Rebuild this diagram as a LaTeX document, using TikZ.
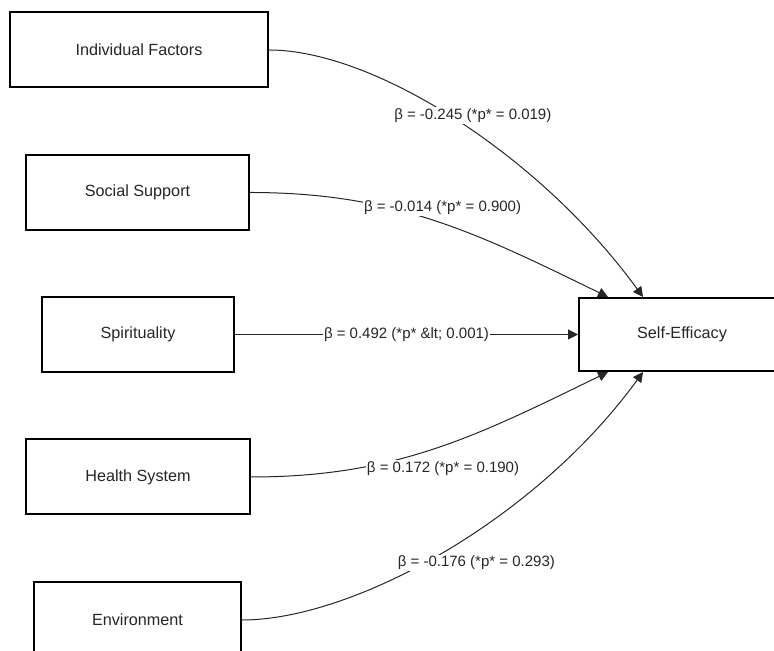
\documentclass[tikz,border=0pt]{standalone}
\usepackage{fontspec}
\setmainfont{Liberation Sans}
\usetikzlibrary{calc,arrows.meta,positioning}
\tikzstyle{factor} = [draw=black, line width=1pt, fill=white, minimum height=37.5pt, inner sep=0pt, font=\fontsize{8.1}{10}\selectfont, text=black!85]
\tikzstyle{effect} = [line width=0.5pt, black!85, -{Triangle[length=5pt,width=5pt]}]
\tikzstyle{beta} = [fill=white, inner sep=0.6pt, font=\fontsize{7.5}{9}\selectfont, text=black!85]

\begin{document}
\begin{tikzpicture}[x=0.5pt,y=0.5pt]

    \useasboundingbox (0,0) rectangle (774,651);

    % predictors
    \node[factor, minimum width=129pt] (indiv) at (139,601) {Individual Factors};
    \node[factor, minimum width=111.5pt] (social) at (137.5,458.5) {Social Support};
    \node[factor, minimum width=96pt] (spirit) at (138,316.5) {Spirituality};
    \node[factor, minimum width=112pt] (health) at (138,174) {Health System};
    \node[factor, minimum width=103.5pt] (env) at (137.5,31) {Environment};

    % outcome
    \node[factor, minimum width=103pt, minimum height=36.5pt] (selfeff) at (682,316.5) {Self-Efficacy};

    \coordinate (SEa) at ($(selfeff.north)+(-39,0)$);
    \coordinate (SEb) at ($(selfeff.north)+(-74,0)$);
    \coordinate (SEc) at ($(selfeff.south)+(-74,0)$);
    \coordinate (SEd) at ($(selfeff.south)+(-39,0)$);

    \draw[effect] (indiv.east) to[out=0,in=126,out looseness=0.6]
        node[beta, xshift=8pt, yshift=2.5pt] (b1) {β = -0.245 (*p* = 0.019)} (SEa);
    \draw[effect] (social.east) to[out=0,in=154]
        node[beta, xshift=4pt, yshift=6.5pt] (b2) {β = -0.014 (*p* = 0.900)} (SEb);
    \draw[effect] (spirit.east) --
        node[beta] (b3) {β = 0.492 (*p* \&lt; 0.001)} (selfeff.west);
    \draw[effect] (health.east) to[out=0,in=206]
        node[beta, xshift=4pt, yshift=-10pt] (b4) {β = 0.172 (*p* = 0.190)} (SEc);
    \draw[effect] (env.east) to[out=0,in=234,out looseness=0.6]
        node[beta, xshift=16.5pt, yshift=-5.5pt] (b5) {β = -0.176 (*p* = 0.293)} (SEd);

\end{tikzpicture}
\end{document}
